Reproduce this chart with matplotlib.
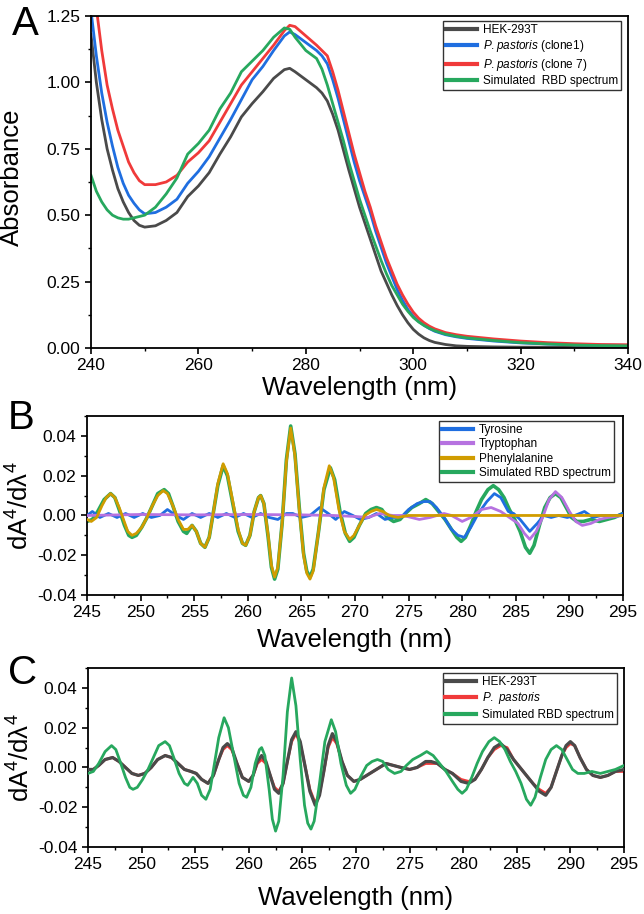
import matplotlib
matplotlib.use('Agg')
import matplotlib.pyplot as plt
from matplotlib.ticker import MultipleLocator, FormatStrFormatter

plt.rcParams['font.family'] = ['Liberation Sans', 'DejaVu Sans']
plt.rcParams['mathtext.fontset'] = 'custom'
plt.rcParams['mathtext.rm'] = 'Liberation Sans'
plt.rcParams['mathtext.it'] = 'Liberation Sans:italic'
plt.rcParams['axes.unicode_minus'] = False

# ---- panel A: absorbance spectra ----
a_wl = [240, 241, 242, 243, 244, 245, 246, 247, 248, 249, 250,
        252, 254, 256, 258, 260, 262, 264, 266, 268, 270, 272, 274, 276,
        277, 278, 280, 282,
        283, 284, 285, 286, 287, 288, 289, 290, 291, 292, 293, 294, 295, 296, 297, 298, 299, 300,
        301, 302, 303, 304,
        306, 308, 310, 315, 320, 325, 330, 335, 340]
a_hek = [1.18, 1.00, 0.86, 0.75, 0.67, 0.60, 0.55, 0.51, 0.48, 0.462, 0.455,
         0.46, 0.48, 0.51, 0.57, 0.61, 0.66, 0.73, 0.795, 0.87, 0.92, 0.965, 1.015, 1.048,
         1.053, 1.04, 1.01, 0.98,
         0.96, 0.93, 0.88, 0.82, 0.745, 0.67, 0.60, 0.53, 0.47, 0.41, 0.35, 0.29, 0.245, 0.20, 0.16, 0.125, 0.095, 0.07,
         0.052, 0.038, 0.028, 0.021,
         0.013, 0.008, 0.006, 0.004, 0.003, 0.003, 0.002, 0.002, 0.002]
a_clone1 = [1.27, 1.10, 0.96, 0.85, 0.76, 0.68, 0.62, 0.575, 0.545, 0.52, 0.505,
            0.51, 0.53, 0.56, 0.62, 0.665, 0.72, 0.79, 0.86, 0.935, 1.01, 1.06, 1.12, 1.175,
            1.19, 1.18, 1.15, 1.12,
            1.10, 1.07, 1.01, 0.94, 0.86, 0.78, 0.70, 0.63, 0.57, 0.51, 0.44, 0.38, 0.32, 0.27, 0.22, 0.18, 0.145, 0.12,
            0.10, 0.085, 0.073, 0.063,
            0.05, 0.042, 0.036, 0.026, 0.019, 0.015, 0.012, 0.011, 0.01]
a_clone7 = [1.45, 1.28, 1.12, 0.99, 0.90, 0.82, 0.76, 0.70, 0.66, 0.63, 0.615,
            0.615, 0.625, 0.65, 0.70, 0.735, 0.78, 0.85, 0.92, 0.99, 1.04, 1.09, 1.14, 1.195,
            1.215, 1.21, 1.175, 1.14,
            1.12, 1.10, 1.04, 0.97, 0.89, 0.81, 0.73, 0.66, 0.59, 0.53, 0.46, 0.40, 0.34, 0.29, 0.24, 0.20, 0.165, 0.135,
            0.112, 0.095, 0.082, 0.072,
            0.058, 0.05, 0.044, 0.034, 0.026, 0.02, 0.016, 0.013, 0.012]
a_sim = [0.65, 0.59, 0.55, 0.52, 0.50, 0.49, 0.485, 0.485, 0.49, 0.495, 0.50,
         0.53, 0.58, 0.64, 0.73, 0.77, 0.82, 0.90, 0.96, 1.04, 1.08, 1.12, 1.17, 1.205,
         1.20, 1.17, 1.12, 1.09,
         1.05, 0.99, 0.92, 0.85, 0.78, 0.70, 0.63, 0.56, 0.50, 0.44, 0.385, 0.33, 0.28, 0.235, 0.20, 0.165, 0.138, 0.115,
         0.098, 0.085, 0.074, 0.065,
         0.052, 0.044, 0.038, 0.028, 0.02, 0.015, 0.011, 0.009, 0.008]

# ---- panel B: fourth derivative of amino acid spectra ----
tyr_wl = [245.0, 245.5, 246.2, 247.0, 247.8, 248.6, 249.4, 250.2, 251.0, 251.8, 252.5, 253.3, 254.0,
          254.8, 255.6, 256.4, 257.2, 258.0, 258.8, 259.6, 260.4, 261.2, 262.0, 262.8, 263.6, 264.2,
          265.0, 265.8, 266.7, 267.5, 268.2, 269.0, 269.8, 270.5, 271.3, 272.0, 272.8, 273.5, 274.3,
          275.0, 275.8, 276.4, 277.0, 277.6, 278.3, 279.0, 279.6, 280.2, 280.8, 281.5, 282.3, 283.0,
          283.6, 284.3, 284.8, 285.4, 286.3, 287.0, 287.6, 288.3, 289.0, 289.8, 290.5, 291.4, 292.2,
          293.0, 293.8, 294.5, 295.0]
tyr = [0.000, 0.002, -0.001, 0.001, -0.001, 0.001, -0.001, 0.001, -0.001, 0.000, 0.003, 0.000, -0.002,
       0.001, -0.001, 0.001, -0.001, 0.001, -0.001, 0.001, -0.001, 0.001, -0.001, -0.002, 0.001, 0.001,
       -0.001, 0.000, 0.004, 0.001, -0.002, 0.002, 0.000, -0.002, -0.001, 0.001, -0.002, -0.001, -0.001,
       0.003, 0.006, 0.007, 0.007, 0.004, -0.001, -0.007, -0.010, -0.011, -0.006, 0.001, 0.007, 0.011,
       0.009, 0.002, 0.001, -0.002, -0.008, -0.004, 0.000, -0.001, 0.000, -0.001, 0.000, 0.002, -0.001,
       0.000, 0.000, 0.000, 0.001]

trp_wl = [245.0, 250.0, 255.0, 260.0, 265.0, 268.0, 270.0, 271.2, 272.3, 273.5, 274.5, 276.0, 277.0,
          278.3, 279.0, 280.0, 280.8, 281.8, 282.7, 283.6, 284.4, 285.2, 285.8, 286.3, 286.9, 287.5,
          288.1, 288.7, 289.3, 290.0, 290.6, 291.2, 292.0, 292.8, 293.6, 295.0]
trp = [0.000, 0.0005, 0.0003, 0.0005, 0.0003, 0.000, -0.0005, -0.001, 0.001, 0.000, 0.000, -0.002, -0.001,
       0.001, 0.000, -0.003, -0.001, 0.003, 0.004, 0.002, -0.001, -0.004, -0.009, -0.012, -0.008, -0.001,
       0.008, 0.012, 0.009, 0.002, -0.003, -0.005, -0.004, -0.002, -0.001, 0.000]

phe_wl = [245.0, 245.4, 245.9, 246.4, 246.8, 247.2, 247.6, 248.0, 248.4, 248.8, 249.2, 249.6, 250.1,
          250.6, 251.1, 251.6, 252.1, 252.5, 253.0, 253.5, 254.0, 254.4, 254.8, 255.2, 255.6, 256.0,
          256.4, 256.8, 257.2, 257.7, 258.1, 258.6, 259.1, 259.5, 259.8, 260.2, 260.6, 261.0, 261.2,
          261.5, 261.9, 262.2, 262.5, 262.8, 263.2, 263.6, 264.0, 264.4, 264.8, 265.2, 265.5, 265.8,
          266.1, 266.6, 267.1, 267.6, 268.0, 268.5, 269.0, 269.5, 269.9, 270.4, 270.9, 271.5, 272.0,
          272.6, 273.2, 274.0, 275.0, 280.0, 285.0, 290.0, 295.0]
phe = [-0.002, -0.003, -0.001, 0.005, 0.009, 0.011, 0.009, 0.004, -0.002, -0.008, -0.010, -0.009, -0.006,
       -0.001, 0.005, 0.010, 0.0125, 0.011, 0.005, -0.002, -0.007, -0.007, -0.005, -0.008, -0.014, -0.016,
       -0.011, 0.002, 0.016, 0.026, 0.021, 0.007, -0.007, -0.014, -0.015, -0.010, 0.002, 0.009, 0.010,
       0.006, -0.010, -0.025, -0.031, -0.026, -0.004, 0.027, 0.044, 0.030, 0.003, -0.020, -0.029, -0.032,
       -0.028, -0.008, 0.014, 0.025, 0.019, 0.003, -0.008, -0.012, -0.010, -0.005, 0.000, 0.002, 0.003,
       0.002, 0.000, -0.001, 0.000, 0.000, 0.000, 0.000, 0.000]

# simulated RBD fourth derivative (same curve in B and C)
sim_wl = [245.0, 245.5, 246.0, 246.6, 247.2, 247.6, 248.0, 248.5, 248.9, 249.2, 249.6, 250.1, 250.6,
          251.1, 251.6, 252.2, 252.6, 253.0, 253.5, 254.0, 254.3, 254.8, 255.2, 255.6, 256.0, 256.4,
          256.8, 257.2, 257.7, 258.1, 258.6, 259.1, 259.5, 259.8, 260.2, 260.6, 261.0, 261.2, 261.5,
          261.9, 262.2, 262.5, 262.8, 263.2, 263.6, 264.0, 264.4, 264.8, 265.2, 265.5, 265.8, 266.1,
          266.6, 267.1, 267.7, 268.1, 268.6, 269.1, 269.5, 269.9, 270.4, 271.0, 271.5, 272.0, 272.5,
          273.0, 273.6, 274.2, 274.7, 275.3, 276.0, 276.6, 277.2, 277.8, 278.4, 279.0, 279.5, 279.9,
          280.3, 280.8, 281.3, 281.8, 282.4, 282.9, 283.4, 283.9, 284.4, 284.9, 285.4, 285.9, 286.3,
          286.7, 287.2, 287.7, 288.2, 288.7, 289.2, 289.7, 290.2, 290.7, 291.3, 292.0, 292.8, 293.5,
          294.2, 295.0]
sim = [-0.003, -0.002, 0.002, 0.008, 0.011, 0.009, 0.003, -0.005, -0.010, -0.011, -0.010, -0.006, -0.001,
       0.005, 0.011, 0.013, 0.011, 0.005, -0.003, -0.008, -0.009, -0.005, -0.008, -0.014, -0.016, -0.011,
       0.002, 0.015, 0.025, 0.020, 0.006, -0.008, -0.014, -0.015, -0.010, 0.002, 0.009, 0.010, 0.006,
       -0.011, -0.026, -0.032, -0.027, -0.004, 0.028, 0.045, 0.031, 0.004, -0.019, -0.028, -0.031, -0.027,
       -0.008, 0.013, 0.024, 0.018, 0.002, -0.009, -0.013, -0.011, -0.005, 0.001, 0.003, 0.004, 0.003,
       -0.001, -0.003, -0.002, 0.001, 0.004, 0.006, 0.008, 0.006, 0.002, -0.002, -0.007, -0.011, -0.013,
       -0.011, -0.005, 0.002, 0.008, 0.013, 0.015, 0.013, 0.009, 0.003, -0.002, -0.008, -0.016, -0.019,
       -0.015, -0.005, 0.004, 0.009, 0.011, 0.009, 0.004, -0.001, -0.003, -0.003, -0.002, -0.003, -0.002,
       -0.001, 0.001]

# ---- panel C: fourth derivative of expressed RBD ----
c_wl = [245.0, 245.5, 246.0, 246.6, 247.3, 247.9, 248.5, 249.1, 249.7, 250.3, 250.9, 251.5, 252.2,
        252.8, 253.4, 254.0, 254.6, 255.1, 255.6, 256.2, 256.7, 257.2, 257.6, 258.0, 258.4, 258.9,
        259.4, 260.0, 260.4, 260.8, 261.2, 261.6, 262.0, 262.4, 262.8, 263.2, 263.6, 264.0, 264.4,
        264.8, 265.2, 265.7, 266.2, 266.6, 267.0, 267.4, 267.8, 268.2, 268.7, 269.2, 269.8, 270.4,
        271.0, 271.6, 272.2, 272.8, 273.5, 274.2, 275.0, 275.7, 276.5, 277.0, 277.6, 278.3, 279.0,
        279.8, 280.5, 281.1, 281.7, 282.3, 282.9, 283.5, 284.1, 284.7, 285.3, 285.9, 286.5, 287.1,
        287.7, 288.2, 288.7, 289.2, 289.6, 290.0, 290.4, 290.9, 291.5, 292.1, 292.8, 293.5, 294.2, 295.0]
c_hek = [-0.001, -0.001, 0.001, 0.004, 0.005, 0.003, 0.000, -0.003, -0.004, -0.003, 0.000, 0.004, 0.006,
         0.005, 0.002, -0.001, -0.002, -0.003, -0.006, -0.008, -0.004, 0.004, 0.010, 0.012, 0.010, 0.002,
         -0.005, -0.007, -0.004, 0.003, 0.006, 0.003, -0.004, -0.011, -0.013, -0.008, 0.003, 0.014, 0.018,
         0.013, 0.002, -0.012, -0.019, -0.014, -0.002, 0.011, 0.017, 0.013, 0.003, -0.004, -0.007, -0.006,
         -0.004, -0.002, 0.000, 0.002, 0.001, 0.000, -0.001, 0.000, 0.003, 0.003, 0.002, -0.001, -0.003,
         -0.007, -0.008, -0.006, -0.001, 0.005, 0.010, 0.012, 0.009, 0.004, 0.000, -0.004, -0.008, -0.012,
         -0.014, -0.010, -0.002, 0.006, 0.011, 0.013, 0.011, 0.005, -0.001, -0.004, -0.005, -0.004, -0.002, -0.001]
c_pastoris = [-0.001, -0.001, 0.001, 0.004, 0.005, 0.003, 0.000, -0.003, -0.004, -0.003, 0.000, 0.004, 0.006,
              0.005, 0.002, -0.001, -0.002, -0.003, -0.006, -0.008, -0.004, 0.004, 0.009, 0.011, 0.009, 0.002,
              -0.005, -0.007, -0.004, 0.002, 0.004, 0.002, -0.004, -0.010, -0.012, -0.008, 0.003, 0.013, 0.017,
              0.012, 0.002, -0.011, -0.018, -0.013, -0.002, 0.010, 0.015, 0.012, 0.003, -0.004, -0.007, -0.006,
              -0.004, -0.002, 0.000, 0.002, 0.001, 0.000, -0.001, 0.000, 0.002, 0.002, 0.002, -0.001, -0.003,
              -0.006, -0.007, -0.006, -0.001, 0.005, 0.009, 0.011, 0.010, 0.004, 0.000, -0.004, -0.008, -0.011,
              -0.013, -0.010, -0.002, 0.006, 0.010, 0.012, 0.011, 0.005, -0.001, -0.004, -0.005, -0.004, -0.002, -0.002]

GRAY = '#4a4a4a'
BLUE = '#1f6ee0'
RED = '#f03a3a'
GREEN = '#27a85e'
PURPLE = '#b672e0'
GOLD = '#d09c00'

fig = plt.figure(figsize=(6.44, 9.14), dpi=100)
axA = fig.add_axes([0.1413, 0.6193, 0.834, 0.3632])
axB = fig.add_axes([0.1351, 0.3490, 0.8323, 0.1958])
axC = fig.add_axes([0.1366, 0.0733, 0.8323, 0.1958])

lw = 2.0
axA.plot(a_wl, a_hek, color=GRAY, lw=lw, label='HEK-293T')
axA.plot(a_wl, a_clone1, color=BLUE, lw=lw, label=r'$\it{P.pastoris}$ (clone1)')
axA.plot(a_wl, a_clone7, color=RED, lw=lw, label=r'$\it{P.pastoris}$ (clone 7)')
axA.plot(a_wl, a_sim, color=GREEN, lw=lw, label='Simulated  RBD spectrum')
axA.set_xlim(240, 340)
axA.set_ylim(0, 1.25)
axA.xaxis.set_major_locator(MultipleLocator(20))
axA.xaxis.set_minor_locator(MultipleLocator(10))
axA.yaxis.set_major_locator(MultipleLocator(0.25))
axA.yaxis.set_minor_locator(MultipleLocator(0.125))
axA.yaxis.set_major_formatter(FormatStrFormatter('%.2f'))
axA.set_ylabel('Absorbance', fontsize=18.5)
axA.yaxis.set_label_coords(-0.125, 0.515)

axB.plot(tyr_wl, tyr, color=BLUE, lw=lw, label='Tyrosine', zorder=3)
axB.plot(trp_wl, trp, color=PURPLE, lw=lw, label='Tryptophan', zorder=3.5)
axB.plot(phe_wl, phe, color=GOLD, lw=lw, label='Phenylalanine', zorder=4)
axB.plot(sim_wl, sim, color=GREEN, lw=lw + 0.6, label='Simulated RBD spectrum', zorder=2)

axC.plot(c_wl, c_hek, color=GRAY, lw=lw + 0.3, label='HEK-293T', zorder=3)
axC.plot(c_wl, c_pastoris, color=RED, lw=lw, label=r'$\it{P.\ pastoris}$', zorder=2)
axC.plot(sim_wl, sim, color=GREEN, lw=lw, label='Simulated RBD spectrum', zorder=4)

for ax in (axB, axC):
    ax.set_xlim(245, 295)
    ax.set_ylim(-0.04, 0.05)
    ax.xaxis.set_major_locator(MultipleLocator(5))
    ax.xaxis.set_minor_locator(MultipleLocator(2.5))
    ax.yaxis.set_major_locator(MultipleLocator(0.02))
    ax.yaxis.set_minor_locator(MultipleLocator(0.01))
    ax.yaxis.set_major_formatter(FormatStrFormatter('%.2f'))
    ax.set_ylabel(r'dA$^4$/dλ$^4$', fontsize=18.5)
    ax.yaxis.set_label_coords(-0.1, 0.5)

for ax in (axA, axB, axC):
    ax.set_xlabel('Wavelength (nm)', fontsize=18.5)
    for s in ax.spines.values():
        s.set_linewidth(1.3)
    ax.tick_params(which='major', direction='out', length=4.5, width=1.2, labelsize=12.5, pad=3)
    ax.tick_params(which='minor', direction='out', length=2.5, width=1.0)

axA.xaxis.set_label_coords(0.5, -0.085)
axB.xaxis.set_label_coords(0.5, -0.185)
axC.xaxis.set_label_coords(0.5, -0.22)

leg_kw = dict(loc='upper right', fontsize=8.5, frameon=True, fancybox=False, framealpha=1,
              edgecolor='#333333', borderaxespad=0, borderpad=0.25, labelspacing=0.2,
              handlelength=2.6, handletextpad=0.5)
for ax, anchor in ((axA, (0.987, 0.985)), (axB, (0.983, 0.972)), (axC, (0.987, 0.972))):
    leg = ax.legend(bbox_to_anchor=anchor, **leg_kw)
    leg.get_frame().set_linewidth(1.0)
    for h in leg.get_lines():
        h.set_linewidth(3.0)

fig.text(0.018, 0.994, 'A', fontsize=29, va='top', ha='left')
fig.text(0.012, 0.563, 'B', fontsize=29, va='top', ha='left')
fig.text(0.012, 0.284, 'C', fontsize=29, va='top', ha='left')

fig.savefig('out.png', dpi=100)
